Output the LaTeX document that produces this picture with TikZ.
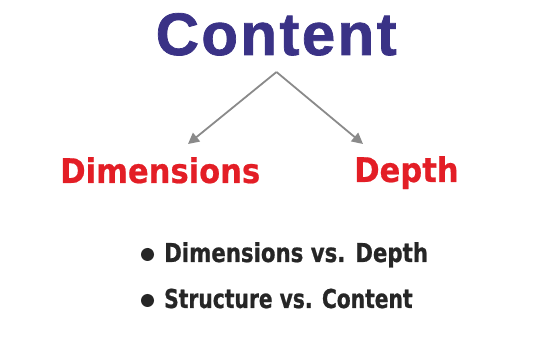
\documentclass[tikz,border=0pt]{standalone}
\usepackage{fontspec}
\usetikzlibrary{arrows.meta}
\newfontfamily\titlefont[LetterSpace=4,FakeBold=1.2]{Liberation Sans Bold}
\newfontfamily\headfont[FakeBold=0.6]{DejaVu Sans Condensed Bold}
\newfontfamily\bulfont[FakeStretch=0.91,FakeBold=0.8]{DejaVu Sans Condensed Bold}
\newfontfamily\bulfontb[FakeStretch=0.865,FakeBold=0.8]{DejaVu Sans Condensed Bold}
\definecolor{titleblue}{RGB}{58,50,134}
\definecolor{headred}{RGB}{227,30,38}
\definecolor{arrowgray}{RGB}{138,138,138}
\definecolor{bultext}{RGB}{38,38,38}
\tikzset{
  titletext/.style={anchor=base west,inner sep=0pt,text=titleblue,font=\titlefont\fontsize{60}{62}\selectfont},
  headtext/.style={anchor=base west,inner sep=0pt,text=headred,font=\headfont\fontsize{34}{36}\selectfont},
  bultxt/.style={anchor=base west,inner sep=0pt,text=bultext,font=\bulfont\fontsize{26}{28}\selectfont},
  bultxtb/.style={bultxt,font=\bulfontb\fontsize{26}{28}\selectfont},
  bulletdot/.style={circle,fill=bultext,inner sep=0pt,minimum size=13pt},
  conn/.style={draw=arrowgray,line width=1.8pt,-{Triangle[length=11pt,width=11pt]}}
}
\begin{document}
\begin{tikzpicture}[x=1pt,y=-1pt]
\useasboundingbox (0,0) rectangle (555,347);
\node[titletext] (content) at (155.5,55) {Content};
\node[headtext] (dims) at (60,183) {Dimensions};
\node[headtext] (depth) at (354,182) {Depth};
\coordinate (apex) at (276.5,72);
\coordinate (tipL) at (188,144);
\coordinate (tipR) at (363,144);
\draw[conn] (apex) -- (tipL);
\draw[conn] (apex) -- (tipR);
\node[bulletdot] (b1) at (147.5,254.5) {};
\node[bultxt] (l1) at (164,262) {Dimensions vs. Depth};
\node[bulletdot] (b2) at (147.5,300.5) {};
\node[bultxtb] (l2) at (164,308) {Structure vs. Content};
\end{tikzpicture}
\end{document}
